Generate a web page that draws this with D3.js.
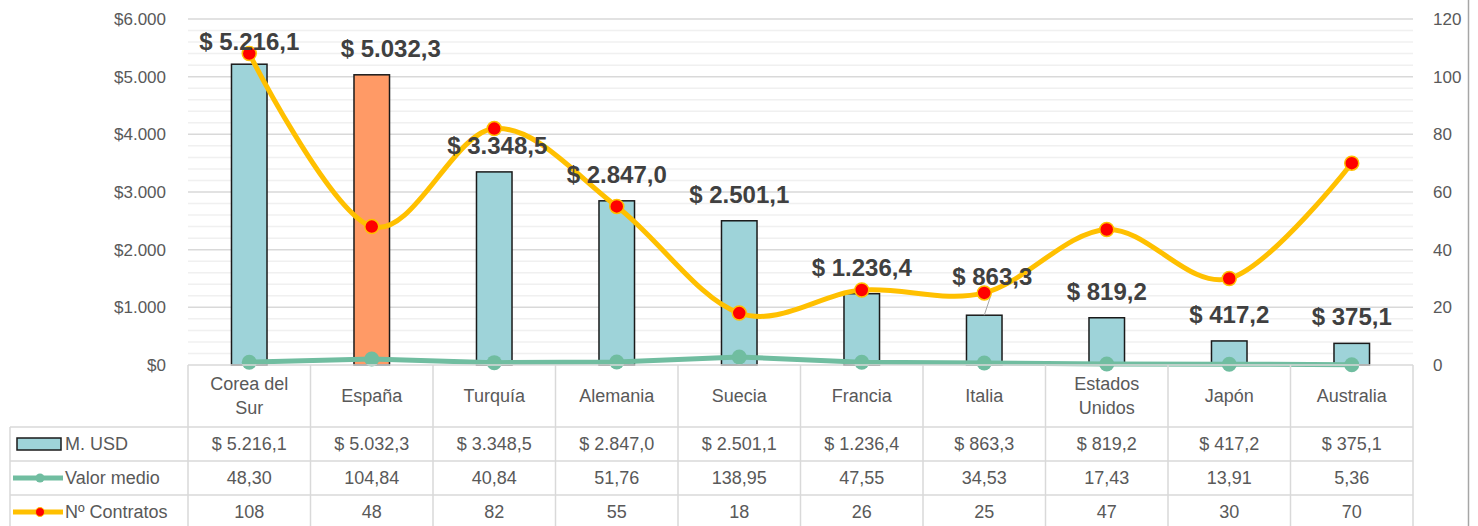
<!DOCTYPE html>
<html>
<head>
<meta charset="utf-8">
<script src="https://cdn.jsdelivr.net/npm/d3@7"></script>
<style>
	body { margin: 0; background: #fff; }
	svg text { font-family: "Liberation Sans", Arial, sans-serif; }
</style>
</head>
<body>
<div id="chart"></div>
<script>
// data
const categories = ['Corea del Sur', 'España', 'Turquía', 'Alemania', 'Suecia', 'Francia', 'Italia', 'Estados Unidos', 'Japón', 'Australia'];
const montoUSD = [5216.1, 5032.3, 3348.5, 2847.0, 2501.1, 1236.4, 863.3, 819.2, 417.2, 375.1];
const valorMedio = [48.30, 104.84, 40.84, 51.76, 138.95, 47.55, 34.53, 17.43, 13.91, 5.36];
const contratos = [108, 48, 82, 55, 18, 26, 25, 47, 30, 70];
const leftTicks = [0, 1000, 2000, 3000, 4000, 5000, 6000];
const rightTicks = [0, 20, 40, 60, 80, 100, 120];
const highlight = 'España';

// label tweaks (like hand-moved labels in the original)
const labelNudge = { 'Corea del Sur': [0, 4], 'España': [19, 0], 'Turquía': [3, 0], 'Italia': [8, -12] };

const W = 1478, H = 526;
const plot = { left: 188, right: 1413, top: 19, bottom: 365 };
const rows = [365, 427, 461, 495, 529];

const loc = d3.formatLocale({ decimal: ',', thousands: '.', grouping: [3], currency: ['$ ', ''] });
const fmtUSD = loc.format('$,.1f');
const fmtAxis = d3.formatLocale({ decimal: ',', thousands: '.', grouping: [3], currency: ['$', ''] }).format('$,.0f');
const fmtMedio = loc.format(',.2f');

const svg = d3.select('#chart').append('svg').attr('width', W).attr('height', H);

const x = d3.scaleBand().domain(categories).range([plot.left, plot.right]).padding(0);
const yL = d3.scaleLinear().domain([0, 6000]).range([plot.bottom, plot.top]);
const yR = d3.scaleLinear().domain([0, 120]).range([plot.bottom, plot.top]);

// gridlines (minor every 200, major every 1000)
const grid = svg.append('g');
grid.selectAll('.minor')
	.data(d3.range(200, 6000, 200).filter((d) => d % 1000 !== 0))
	.enter().append('line')
	.attr('x1', plot.left).attr('x2', plot.right)
	.attr('y1', (d) => yL(d)).attr('y2', (d) => yL(d))
	.attr('stroke', '#f0f0f0').attr('stroke-width', 1.5);
grid.selectAll('.major')
	.data(leftTicks.slice(1))
	.enter().append('line')
	.attr('x1', plot.left).attr('x2', plot.right)
	.attr('y1', (d) => yL(d)).attr('y2', (d) => yL(d))
	.attr('stroke', '#d9d9d9').attr('stroke-width', 1.5);

// left axis
const axL = svg.append('g').attr('transform', `translate(${plot.left - 22},0)`)
	.call(d3.axisLeft(yL).tickValues(leftTicks).tickSize(0).tickPadding(0).tickFormat(fmtAxis));
axL.select('.domain').remove();
axL.selectAll('text').attr('font-size', 17).attr('fill', '#595959').attr('font-family', '"Liberation Sans", Arial, sans-serif');

// right axis
const axR = svg.append('g').attr('transform', `translate(${1433},0)`)
	.call(d3.axisRight(yR).tickValues(rightTicks).tickSize(0).tickPadding(0));
axR.select('.domain').remove();
axR.selectAll('text').attr('font-size', 17).attr('fill', '#595959').attr('font-family', '"Liberation Sans", Arial, sans-serif');

// chart frame line on the right
svg.append('line').attr('x1', 1468.5).attr('x2', 1468.5).attr('y1', 0).attr('y2', H)
	.attr('stroke', '#a6a6a6').attr('stroke-width', 1.5);

// bars
const barW = x.bandwidth() * 0.29;
svg.selectAll('.bar')
	.data(categories)
	.enter().append('rect')
	.attr('x', (d) => x(d) + x.bandwidth() / 2 - barW / 2)
	.attr('width', barW)
	.attr('y', (d, i) => yL(montoUSD[i]))
	.attr('height', (d, i) => plot.bottom - yL(montoUSD[i]))
	.attr('fill', (d) => (d === highlight ? '#FF9A66' : '#9ED3D9'))
	.attr('stroke', '#1a1a1a').attr('stroke-width', 1.5);

// valor medio line (left axis)
const cx = (d) => x(d) + x.bandwidth() / 2;
const lineMedio = d3.line().x((d) => cx(d)).y((d, i) => yL(valorMedio[i]));
svg.append('path').datum(categories).attr('d', lineMedio)
	.attr('fill', 'none').attr('stroke', '#70BDA0').attr('stroke-width', 5);
svg.selectAll('.dotM')
	.data(categories)
	.enter().append('circle')
	.attr('cx', cx).attr('cy', (d, i) => yL(valorMedio[i]))
	.attr('r', 7.5).attr('fill', '#70BDA0');

// contratos line (right axis), smoothed
const lineC = d3.line().x((d) => cx(d)).y((d, i) => yR(contratos[i])).curve(d3.curveCardinal.tension(0));
svg.append('path').datum(categories).attr('d', lineC)
	.attr('fill', 'none').attr('stroke', '#FFC000').attr('stroke-width', 5);
svg.selectAll('.dotC')
	.data(categories)
	.enter().append('circle')
	.attr('cx', cx).attr('cy', (d, i) => yR(contratos[i]))
	.attr('r', 7).attr('fill', '#FF0000').attr('stroke', '#FFC000').attr('stroke-width', 1.5);

// data labels
categories.forEach((d, i) => {
	const n = labelNudge[d] || [0, 0];
	const top = yL(montoUSD[i]);
	const lx = cx(d) + n[0], ly = top - 18 + n[1];
	if (d === 'Italia') {
		svg.append('line').attr('x1', lx - 2).attr('y1', ly + 12).attr('x2', cx(d)).attr('y2', top)
			.attr('stroke', '#a6a6a6').attr('stroke-width', 1);
	}
	svg.append('text').attr('x', lx).attr('y', ly)
		.attr('text-anchor', 'middle').attr('font-size', 24).attr('font-weight', 'bold')
		.attr('fill', '#404040').text(fmtUSD(montoUSD[i]));
});

// data table
const tbl = svg.append('g');
const lineCol = '#d9d9d9';
// horizontal lines
tbl.append('line').attr('x1', plot.left).attr('x2', plot.right).attr('y1', rows[0]).attr('y2', rows[0]).attr('stroke', lineCol).attr('stroke-width', 1.5);
rows.slice(1, 4).forEach((y) => {
	tbl.append('line').attr('x1', 10).attr('x2', plot.right).attr('y1', y).attr('y2', y).attr('stroke', lineCol).attr('stroke-width', 1.5);
});
// vertical lines
tbl.append('line').attr('x1', 10).attr('x2', 10).attr('y1', rows[1]).attr('y2', H).attr('stroke', lineCol).attr('stroke-width', 1.5);
d3.range(categories.length + 1).forEach((k) => {
	const xv = plot.left + k * x.bandwidth();
	tbl.append('line').attr('x1', xv).attr('x2', xv).attr('y1', rows[0]).attr('y2', H).attr('stroke', lineCol).attr('stroke-width', 1.5);
});

// category names (wrapped)
categories.forEach((d) => {
	const t = tbl.append('text').attr('text-anchor', 'middle').attr('font-size', 18).attr('fill', '#595959');
	const words = d.split(' ');
	const lines = [];
	let cur = '';
	words.forEach((w) => {
		const test = cur ? cur + ' ' + w : w;
		t.text(test);
		if (t.node().getComputedTextLength() > 108 && cur) {
			lines.push(cur);
			cur = w;
		} else cur = test;
	});
	lines.push(cur);
	t.text(null);
	const mid = (rows[0] + rows[1]) / 2;
	lines.forEach((l, j) => {
		t.append('tspan').attr('x', cx(d))
			.attr('y', mid + 6 + (j - (lines.length - 1) / 2) * 24)
			.text(l);
	});
});

// value rows
const rowData = [montoUSD.map(fmtUSD), valorMedio.map(fmtMedio), contratos.map(String)];
rowData.forEach((vals, r) => {
	const mid = (rows[r + 1] + rows[r + 2]) / 2;
	tbl.selectAll(null)
		.data(vals)
		.enter().append('text')
		.attr('x', (v, i) => cx(categories[i]))
		.attr('y', mid + 6)
		.attr('text-anchor', 'middle').attr('font-size', 18).attr('fill', '#595959')
		.text((v) => v);
});

// legend keys
const legNames = ['M. USD', 'Valor medio', 'Nº Contratos'];
legNames.forEach((name, r) => {
	const mid = (rows[r + 1] + rows[r + 2]) / 2;
	if (r === 0) {
		tbl.append('rect').attr('x', 17).attr('y', mid - 6).attr('width', 44).attr('height', 12)
			.attr('fill', '#9ED3D9').attr('stroke', '#1a1a1a').attr('stroke-width', 1.5);
	} else {
		tbl.append('line').attr('x1', 13).attr('x2', 63).attr('y1', mid).attr('y2', mid)
			.attr('stroke', r === 1 ? '#70BDA0' : '#FFC000').attr('stroke-width', 5);
		tbl.append('circle').attr('cx', 40).attr('cy', mid).attr('r', 4.5)
			.attr('fill', r === 1 ? '#70BDA0' : '#FF0000')
			.attr('stroke', r === 1 ? 'none' : '#FFC000').attr('stroke-width', 1);
	}
	tbl.append('text').attr('x', 65).attr('y', mid + 6).attr('font-size', 18).attr('fill', '#595959').text(name);
});
</script>
</body>
</html>
